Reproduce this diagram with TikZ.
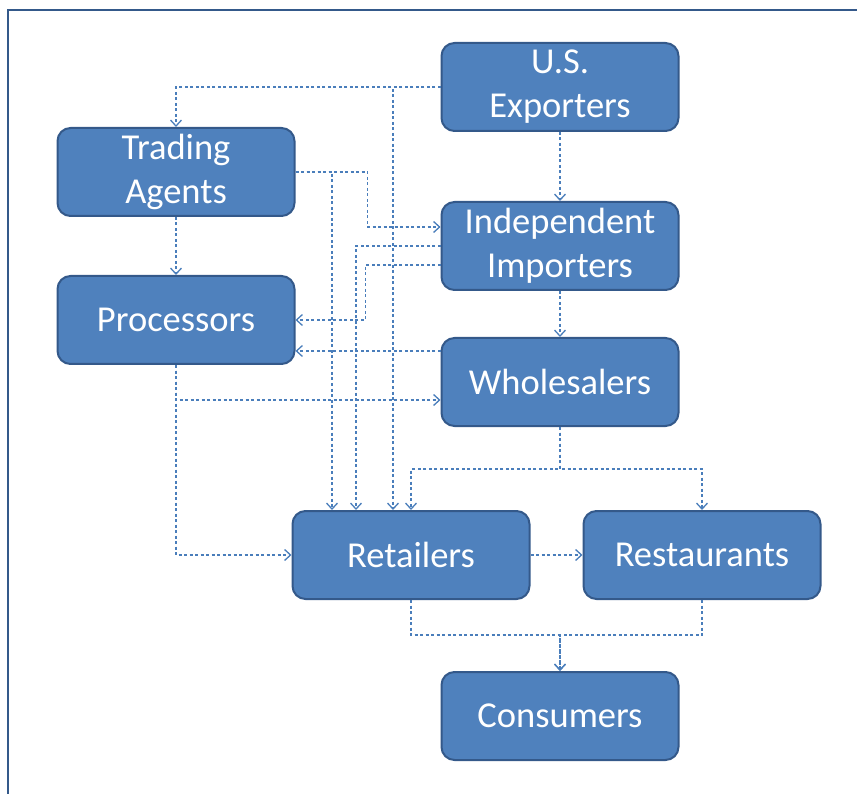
\documentclass[tikz,border=0pt]{standalone}
\usepackage{fontspec}
\setmainfont{Carlito}
\usetikzlibrary{calc,arrows.meta}
\definecolor{boxfill}{HTML}{4F81BD}
\definecolor{boxdraw}{HTML}{34598A}
\definecolor{linec}{HTML}{4A7EBB}
\tikzset{
  entity/.style={draw=boxdraw, line width=2pt, fill=boxfill, rounded corners=13pt,
    minimum width=237pt, minimum height=88pt, text=white, align=center,
    font=\fontsize{36.5}{44}\selectfont, inner sep=0pt},
  conn/.style={draw=linec, line width=1.3pt, dash pattern=on 3pt off 2.5pt,
    -{Straight Barb[length=6pt,width=11pt,line width=1.3pt]}},
  frame/.style={draw=boxdraw, line width=2.5pt}
}
\begin{document}
\begin{tikzpicture}[x=1pt,y=-1pt]
\useasboundingbox (0,0) rectangle (857,794);
\draw[frame] (8,794) -- (8,10) -- (857,10);

\node[entity] (use) at (560,87) {U.S.\\Exporters};
\node[entity] (ta) at (176,172) {Trading\\Agents};
\node[entity] (ii) at (560,246) {Independent\\Importers};
\node[entity] (proc) at (176,320) {Processors};
\node[entity] (wh) at (560,382) {Wholesalers};
\node[entity] (ret) at (411,555) {Retailers};
\node[entity] (res) at (702,555) {Restaurants};
\node[entity] (con) at (560,716) {Consumers};

% U.S. Exporters
\draw[conn] (use.west) -| (ta.north);
\draw[conn] (use.west) -| ($(ret.north)+(-18,0)$);
\draw[conn] (use.south) -- (ii.north);
% Trading Agents
\draw[conn] (ta.east) -- ++(72,0) |- ($(ii.west)+(0,-19)$);
\draw[conn] (ta.east) -| ($(ret.north)+(-79,0)$);
\draw[conn] (ta.south) -- (proc.north);
% Independent Importers
\draw[conn] (ii.west) -| ($(ret.north)+(-55,0)$);
\draw[conn] ($(ii.west)+(0,19)$) -- ++(-75,0) |- (proc.east);
\draw[conn] (ii.south) -- (wh.north);
% Wholesalers
\draw[conn] ($(wh.west)+(0,-31)$) -- ($(proc.east)+(0,31)$);
\draw[conn] (wh.south) -- ++(0,42) -| (ret.north);
\draw[conn] (wh.south) -- ++(0,42) -| (res.north);
% Processors
\draw[conn] (proc.south) |- ($(wh.west)+(0,18)$);
\draw[conn] (proc.south) |- (ret.west);
% Retailers / Restaurants
\draw[conn] (ret.east) -- (res.west);
\draw[conn] (ret.south) -- ++(0,35) -| (con.north);
\draw[conn] (res.south) -- ++(0,35) -| (con.north);
\end{tikzpicture}
\end{document}
